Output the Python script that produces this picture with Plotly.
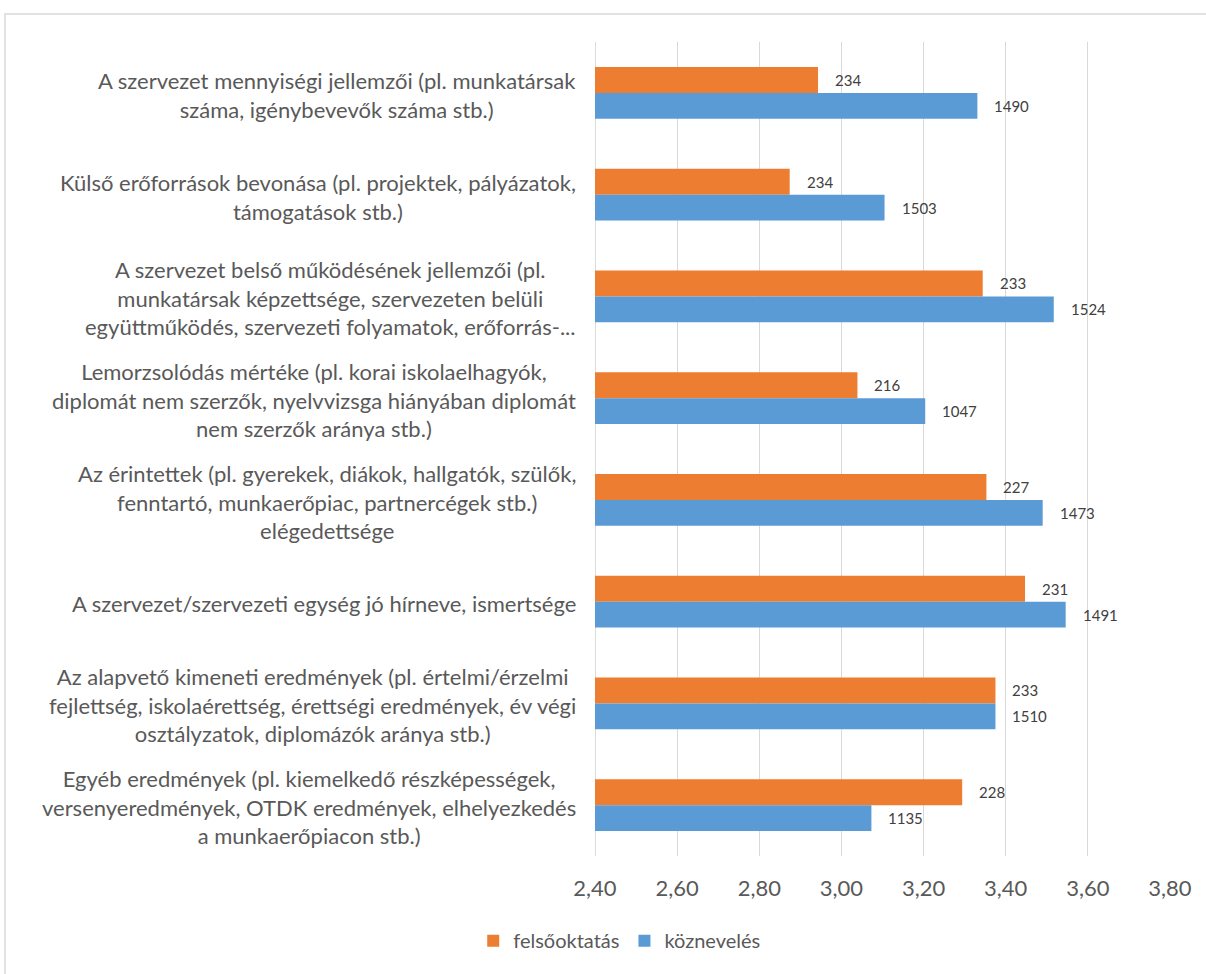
import plotly.graph_objects as go

categories = [
    "A szervezet mennyiségi jellemzői (pl. munkatársak<br>száma, igénybevevők száma stb.)",
    "Külső erőforrások bevonása (pl. projektek, pályázatok,<br>támogatások stb.)",
    "A szervezet belső működésének jellemzői (pl.<br>munkatársak képzettsége, szervezeten belüli<br>együttműködés, szervezeti folyamatok, erőforrás-...",
    "Lemorzsolódás mértéke (pl. korai iskolaelhagyók,<br>diplomát nem szerzők, nyelvvizsga hiányában diplomát<br>nem szerzők aránya stb.)",
    "Az érintettek (pl. gyerekek, diákok, hallgatók, szülők,<br>fenntartó, munkaerőpiac, partnercégek stb.)<br>elégedettsége",
    "A szervezet/szervezeti egység jó hírneve, ismertsége",
    "Az alapvető kimeneti eredmények (pl. értelmi/érzelmi<br>fejlettség, iskolaérettség, érettségi eredmények, év végi<br>osztályzatok, diplomázók aránya stb.)",
    "Egyéb eredmények (pl. kiemelkedő részképességek,<br>versenyeredmények, OTDK eredmények, elhelyezkedés<br>a munkaerőpiacon stb.)",
]

felsooktatas = [2.943, 2.874, 3.344, 3.039, 3.353, 3.447, 3.375, 3.294]
felsooktatas_n = [234, 234, 233, 216, 227, 231, 233, 228]
koznevels = [3.331, 3.105, 3.517, 3.204, 3.490, 3.546, 3.375, 3.073]
koznevels_n = [1490, 1503, 1524, 1047, 1473, 1491, 1510, 1135]

x_ticks = [2.4, 2.6, 2.8, 3.0, 3.2, 3.4, 3.6, 3.8]

ORANGE = "#ED7D31"
BLUE = "#5B9BD5"
TEXT = "#595959"
FONT = "Lato"

fig = go.Figure()
fig.add_trace(go.Bar(y=categories, x=felsooktatas, name="felsőoktatás", orientation="h",
                     marker=dict(color=ORANGE, line=dict(width=0))))
fig.add_trace(go.Bar(y=categories, x=koznevels, name="köznevelés", orientation="h",
                     marker=dict(color=BLUE, line=dict(width=0))))

annotations = []
W, H = 1206, 974
L, R, T, B = 595, 36, 42, 118
label_right_px = 578
for i, cat in enumerate(categories):
    annotations.append(dict(
        xref="paper", yref="y", x=(label_right_px - L) / (W - L - R), y=cat,
        text=cat, showarrow=False, xanchor="right", yanchor="middle", align="center",
        yshift=-2, font=dict(family=FONT, size=22, color=TEXT)))
    annotations.append(dict(
        xref="x", yref="y", x=felsooktatas[i], y=cat, text=str(felsooktatas_n[i]),
        showarrow=False, xanchor="left", yanchor="middle", xshift=15, yshift=13,
        font=dict(family=FONT, size=15, color="#404040")))
    annotations.append(dict(
        xref="x", yref="y", x=koznevels[i], y=cat, text=str(koznevels_n[i]),
        showarrow=False, xanchor="left", yanchor="middle", xshift=15, yshift=-13,
        font=dict(family=FONT, size=15, color="#404040")))

fig.update_layout(
    width=W, height=H,
    margin=dict(l=L, r=R, t=T, b=B),
    paper_bgcolor="white", plot_bgcolor="white",
    barmode="group", bargap=0.49, bargroupgap=0,
    separators=",.",
    font=dict(family=FONT, color=TEXT),
    xaxis=dict(range=[2.4, 3.8], tickvals=x_ticks, tickformat=".2f",
               showgrid=True, gridcolor="#d9d9d9", gridwidth=1,
               zeroline=False, showline=False, ticks="",
               tickfont=dict(family=FONT, size=22, color=TEXT),
               ticklabelstandoff=17, fixedrange=True),
    yaxis=dict(autorange="reversed", showticklabels=False, showgrid=False,
               zeroline=False, showline=False, ticks=""),
    legend=dict(orientation="h", x=0.043, xanchor="center", y=-0.104, yanchor="middle",
                font=dict(family=FONT, size=20, color=TEXT), traceorder="normal",
                itemwidth=30),
    showlegend=True,
    annotations=annotations,
    shapes=[
        dict(type="line", xref="x", yref="paper", x0=2.4, x1=2.4, y0=0, y1=1,
             line=dict(color="#d0d0d0", width=1.5), layer="below"),
        dict(type="rect", xref="paper", yref="paper",
             x0=(5 - L) / (W - L - R), x1=(1210 - L) / (W - L - R),
             y0=(H - B - 980) / (H - T - B), y1=(H - B - 14) / (H - T - B),
             line=dict(color="#d9d9d9", width=1.5), fillcolor="rgba(0,0,0,0)", layer="below"),
    ],
)

fig.write_html("out.html")
